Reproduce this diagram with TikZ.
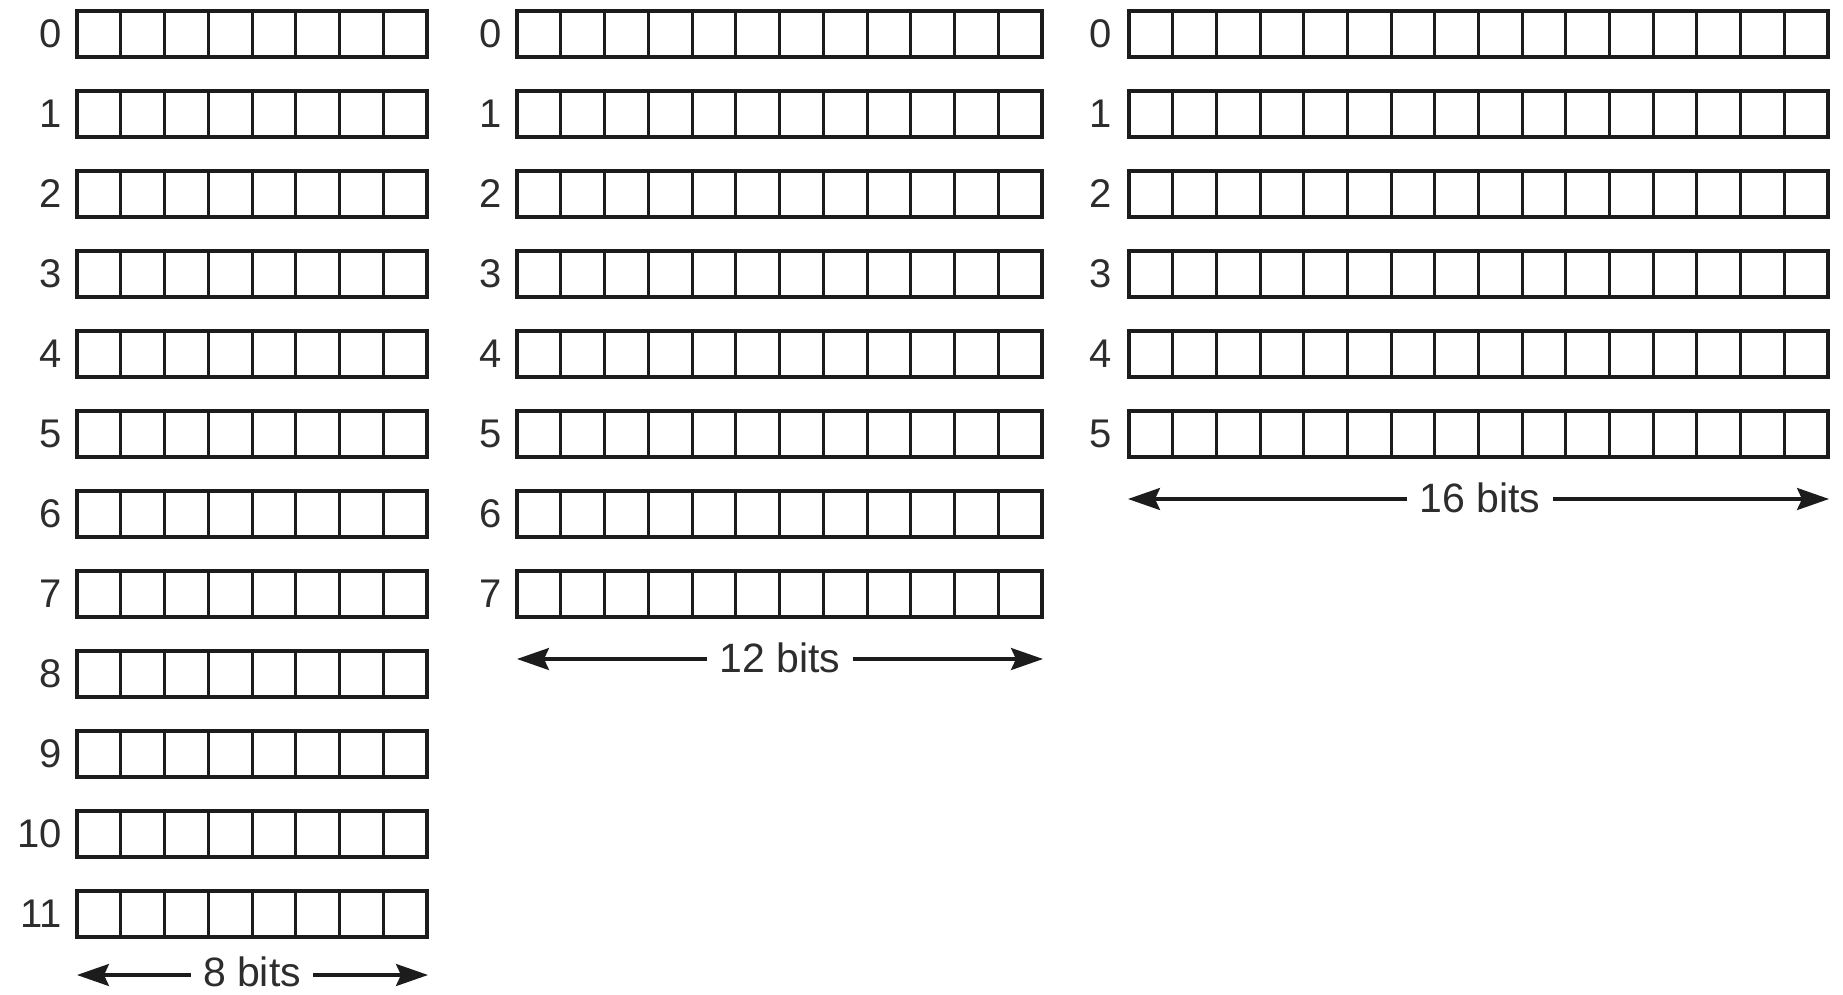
\documentclass[tikz,border=0pt]{standalone}
\usepackage{fontspec}
\setmainfont{Liberation Sans}
\usetikzlibrary{arrows.meta}
\definecolor{ink}{RGB}{28,28,28}
\definecolor{txt}{RGB}{45,45,45}
\begin{document}
\begin{tikzpicture}[x=1pt,y=-1pt,
  rowbox/.style={draw=ink, line width=3.2pt, minimum height=46pt, inner sep=0pt, outer sep=0pt, anchor=north west},
  cellline/.style={draw=ink, line width=3pt},
  lab/.style={text=txt, inner sep=0pt, anchor=east, font=\fontsize{40}{48}\selectfont},
  bitslab/.style={text=txt, inner ysep=0pt, inner xsep=12pt, font=\fontsize{41}{48}\selectfont},
  dimarrow/.style={draw=ink, line width=3.2pt, -{Stealth[length=32pt,width=22pt,inset=5pt]}}]
\useasboundingbox[fill=white] (0,0) rectangle (1843,995);
% column A: 8 bits, 12 rows
\foreach \i in {0,...,11} {
  \node[rowbox, minimum width=350pt] (a\i) at (77,{11+80*\i}) {};
  \node[lab] (la\i) at (62,{34+80*\i}) {\i};
  \foreach \k in {1,...,7}
    \draw[cellline] ([xshift=\k*43.75pt]a\i.north west) -- ([xshift=\k*43.75pt]a\i.south west);
}
% column B: 12 bits, 8 rows
\foreach \i in {0,...,7} {
  \node[rowbox, minimum width=525pt] (b\i) at (517,{11+80*\i}) {};
  \node[lab] (lb\i) at (502,{34+80*\i}) {\i};
  \foreach \k in {1,...,11}
    \draw[cellline] ([xshift=\k*43.75pt]b\i.north west) -- ([xshift=\k*43.75pt]b\i.south west);
}
% column C: 16 bits, 6 rows
\foreach \i in {0,...,5} {
  \node[rowbox, minimum width=699pt] (c\i) at (1129,{11+80*\i}) {};
  \node[lab] (lc\i) at (1112,{34+80*\i}) {\i};
  \foreach \k in {1,...,15}
    \draw[cellline] ([xshift=\k*43.69pt]c\i.north west) -- ([xshift=\k*43.69pt]c\i.south west);
}
% dimension arrows
\node[bitslab] (wa) at (252,972) {8 bits};
\coordinate (wal) at (77,975);
\coordinate (war) at (428,975);
\draw[dimarrow] (wa.west |- wal) -- (wal);
\draw[dimarrow] (wa.east |- war) -- (war);
\node[bitslab] (wb) at (780,658) {12 bits};
\coordinate (wbl) at (517,659);
\coordinate (wbr) at (1043,659);
\draw[dimarrow] (wb.west |- wbl) -- (wbl);
\draw[dimarrow] (wb.east |- wbr) -- (wbr);
\node[bitslab] (wc) at (1480,498) {16 bits};
\coordinate (wcl) at (1128,499);
\coordinate (wcr) at (1829,499);
\draw[dimarrow] (wc.west |- wcl) -- (wcl);
\draw[dimarrow] (wc.east |- wcr) -- (wcr);
\end{tikzpicture}
\end{document}
